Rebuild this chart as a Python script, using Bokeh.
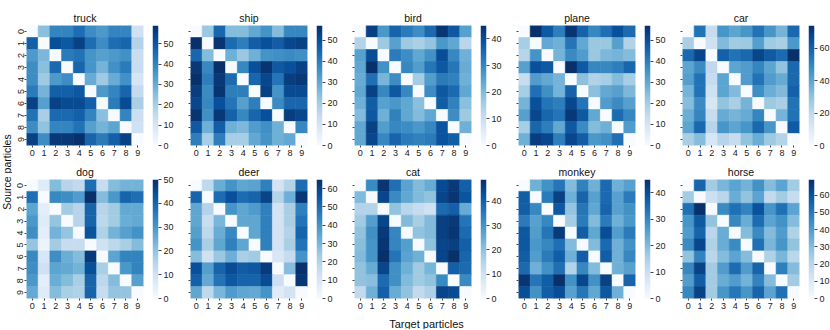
import numpy as np
from bokeh.plotting import figure
from bokeh.models import Range1d, FixedTicker, LinearColorMapper, Label, ColumnDataSource
from bokeh.layouts import row, column
from bokeh.palettes import Blues256
from bokeh.embed import file_html
from bokeh.resources import INLINE

# ---------------- data ----------------
classes = ["truck", "ship", "bird", "plane", "car", "dog", "deer", "cat", "monkey", "horse"]
tick_labels = ["0", "1", "2", "3", "4", "5", "6", "7", "8", "9"]

truck = [
    [0, 25, 40, 40, 45, 38, 35, 40, 40, 12],
    [48, 0, 52, 50, 55, 45, 38, 45, 47, 18],
    [35, 27, 0, 42, 44, 36, 33, 35, 37, 14],
    [38, 25, 46, 0, 47, 36, 28, 37, 42, 14],
    [38, 22, 35, 38, 0, 30, 22, 30, 37, 10],
    [42, 28, 48, 48, 50, 0, 35, 40, 47, 15],
    [55, 33, 55, 53, 53, 48, 0, 42, 53, 20],
    [44, 20, 46, 46, 48, 40, 25, 0, 40, 13],
    [38, 24, 40, 40, 44, 33, 28, 32, 0, 12],
    [55, 38, 57, 57, 59, 47, 42, 48, 55, 0],
]
ship = [
    [0, 22, 45, 25, 25, 30, 35, 25, 38, 38],
    [57, 0, 56, 44, 40, 47, 50, 47, 52, 53],
    [45, 25, 0, 28, 22, 28, 35, 36, 37, 36],
    [55, 38, 57, 0, 38, 50, 56, 48, 50, 53],
    [57, 40, 55, 44, 0, 45, 52, 42, 54, 55],
    [54, 37, 56, 40, 40, 0, 53, 35, 51, 51],
    [52, 38, 50, 42, 32, 40, 0, 37, 45, 45],
    [56, 36, 55, 46, 38, 45, 50, 0, 54, 52],
    [48, 28, 47, 28, 26, 33, 36, 28, 0, 38],
    [40, 20, 40, 20, 20, 30, 35, 28, 30, 0],
]
bird = [
    [0, 42, 27, 36, 32, 29, 35, 44, 38, 25],
    [14, 0, 17, 25, 17, 15, 18, 27, 24, 13],
    [25, 40, 0, 32, 29, 24, 28, 40, 30, 22],
    [24, 45, 28, 0, 30, 26, 33, 38, 33, 23],
    [23, 34, 21, 29, 0, 16, 26, 32, 31, 22],
    [24, 42, 30, 38, 30, 0, 29, 38, 35, 24],
    [22, 37, 25, 27, 24, 19, 0, 37, 31, 19],
    [20, 38, 22, 31, 24, 20, 24, 0, 29, 17],
    [24, 42, 26, 30, 29, 27, 30, 39, 0, 22],
    [24, 41, 30, 36, 32, 31, 32, 39, 37, 0],
]
plane = [
    [0, 57, 48, 40, 56, 46, 38, 43, 50, 44],
    [20, 0, 30, 28, 42, 30, 22, 22, 32, 18],
    [17, 35, 0, 27, 37, 33, 22, 26, 27, 25],
    [32, 50, 48, 0, 57, 48, 38, 38, 40, 45],
    [14, 33, 30, 27, 0, 24, 18, 20, 25, 20],
    [20, 43, 36, 27, 46, 0, 24, 30, 32, 26],
    [27, 50, 42, 40, 52, 42, 0, 33, 37, 32],
    [32, 52, 45, 42, 55, 48, 30, 0, 44, 38],
    [20, 45, 40, 30, 48, 37, 25, 28, 0, 33],
    [28, 54, 52, 40, 52, 47, 34, 36, 43, 0],
]
car = [
    [0, 55, 18, 45, 40, 45, 55, 45, 35, 58],
    [25, 0, 15, 33, 27, 28, 42, 27, 25, 44],
    [58, 68, 0, 60, 55, 58, 68, 62, 57, 74],
    [40, 48, 20, 0, 40, 43, 50, 40, 30, 58],
    [42, 55, 18, 40, 0, 43, 55, 43, 38, 58],
    [35, 55, 15, 40, 33, 0, 47, 37, 33, 60],
    [32, 48, 12, 30, 25, 35, 0, 28, 25, 55],
    [37, 50, 18, 38, 35, 38, 50, 0, 35, 55],
    [40, 58, 22, 45, 40, 45, 58, 45, 0, 62],
    [25, 32, 12, 22, 18, 30, 37, 28, 23, 0],
]
dog = [
    [0, 6, 22, 15, 13, 38, 12, 22, 24, 24],
    [38, 0, 33, 32, 29, 50, 22, 30, 40, 38],
    [27, 5, 0, 18, 15, 40, 15, 18, 26, 26],
    [30, 6, 20, 0, 15, 40, 14, 18, 25, 26],
    [32, 5, 24, 20, 0, 43, 16, 24, 28, 31],
    [20, 3, 18, 12, 12, 0, 10, 14, 17, 22],
    [33, 8, 32, 25, 22, 48, 0, 27, 34, 34],
    [32, 10, 27, 26, 24, 44, 17, 0, 30, 34],
    [30, 5, 25, 22, 17, 40, 14, 22, 0, 28],
    [26, 6, 22, 17, 16, 40, 12, 20, 20, 0],
]
deer = [
    [0, 18, 33, 40, 35, 36, 45, 12, 20, 50],
    [52, 0, 50, 57, 50, 52, 60, 20, 32, 63],
    [35, 20, 0, 40, 35, 38, 45, 12, 22, 45],
    [35, 15, 30, 0, 35, 35, 45, 12, 22, 48],
    [37, 18, 33, 43, 0, 35, 45, 12, 20, 52],
    [40, 22, 35, 45, 35, 0, 45, 12, 22, 48],
    [28, 13, 25, 32, 22, 24, 0, 10, 16, 40],
    [57, 37, 52, 58, 54, 55, 62, 0, 28, 65],
    [53, 34, 48, 55, 52, 52, 58, 14, 0, 63],
    [35, 18, 30, 38, 35, 34, 40, 8, 12, 0],
]
cat = [
    [0, 32, 48, 37, 27, 22, 25, 44, 47, 40],
    [22, 0, 45, 32, 26, 22, 20, 45, 48, 42],
    [15, 15, 0, 20, 14, 12, 10, 38, 40, 25],
    [18, 28, 45, 0, 22, 17, 22, 46, 47, 36],
    [20, 31, 47, 33, 0, 20, 22, 46, 48, 38],
    [21, 30, 48, 33, 28, 0, 20, 45, 46, 40],
    [22, 30, 49, 36, 27, 24, 0, 45, 49, 39],
    [20, 25, 45, 31, 24, 18, 23, 0, 40, 38],
    [20, 21, 38, 31, 22, 18, 20, 32, 0, 32],
    [13, 24, 40, 25, 20, 13, 16, 45, 44, 0],
]
monkey = [
    [0, 22, 28, 33, 20, 31, 22, 35, 22, 25],
    [37, 0, 32, 42, 22, 36, 25, 35, 25, 32],
    [37, 30, 0, 38, 18, 33, 24, 36, 25, 28],
    [32, 25, 30, 0, 16, 32, 20, 32, 22, 27],
    [38, 26, 33, 43, 0, 37, 24, 40, 26, 32],
    [38, 27, 30, 34, 20, 0, 20, 35, 22, 28],
    [37, 26, 32, 37, 22, 37, 0, 37, 22, 30],
    [35, 22, 28, 34, 14, 30, 20, 0, 22, 25],
    [44, 33, 37, 45, 28, 41, 28, 42, 0, 36],
    [40, 28, 37, 40, 25, 33, 24, 38, 22, 0],
]
horse = [
    [0, 55, 25, 32, 38, 33, 43, 30, 38, 25],
    [25, 0, 15, 20, 35, 28, 38, 18, 25, 17],
    [52, 69, 0, 45, 52, 47, 60, 42, 52, 38],
    [42, 58, 28, 0, 46, 35, 53, 38, 43, 30],
    [40, 55, 20, 35, 0, 30, 45, 30, 40, 22],
    [45, 63, 22, 35, 45, 0, 52, 32, 42, 28],
    [28, 47, 20, 30, 38, 30, 0, 22, 32, 20],
    [46, 64, 25, 40, 53, 40, 55, 0, 48, 30],
    [40, 57, 25, 35, 40, 33, 47, 30, 0, 25],
    [46, 64, 25, 42, 50, 42, 55, 38, 52, 0],
]
matrices = [truck, ship, bird, plane, car, dog, deer, cat, monkey, horse]
cbar_steps = [10, 10, 10, 10, 20, 10, 10, 10, 10, 10]

x_label = "Target particles"
y_label = "Source particles"

# ---------------- styling ----------------
PAL = list(reversed(Blues256))  # white -> dark blue
FONT = "Liberation Sans"
FRAME_W = 117
FRAME_H = [120, 119]
TOP_B = [25, 20]
BOT_B = 14
TICK_FS = "9px"
TXT = "#222222"
CB_RIGHT = [14, 15, 15, 15, 22]


def style_axis(ax):
    ax.axis_line_color = None
    ax.major_tick_in = 0
    ax.major_tick_out = 2
    ax.major_tick_line_color = "#444444"
    ax.minor_tick_line_color = None
    ax.major_label_text_font = FONT
    ax.major_label_text_font_size = TICK_FS
    ax.major_label_text_color = TXT
    ax.major_label_standoff = 2


def heat_fig(name, data, col, r):
    p = figure(frame_width=FRAME_W, frame_height=FRAME_H[r],
               x_range=Range1d(-0.5, 9.5), y_range=Range1d(9.5, -0.5),
               output_backend="svg", toolbar_location=None,
               min_border_left=14, min_border_right=4,
               min_border_top=TOP_B[r], min_border_bottom=BOT_B,
               title=name)
    p.title.align = "center"
    p.title.text_font = FONT
    p.title.text_font_size = "10.5px"
    p.title.text_font_style = "normal"
    p.title.text_color = "#111111"
    try:
        p.title.standoff = 3
    except Exception:
        pass
    p.grid.visible = False
    p.outline_line_color = None

    vmax = max(max(rw) for rw in data)
    mapper = LinearColorMapper(palette=PAL, low=0, high=vmax)
    xs, ys, vs = [], [], []
    for i in range(10):
        for j in range(10):
            xs.append(j)
            ys.append(i)
            vs.append(data[i][j])
    src = ColumnDataSource(dict(x=xs, y=ys, v=vs))
    p.rect("x", "y", 1, 1, source=src,
           fill_color={"field": "v", "transform": mapper},
           line_color={"field": "v", "transform": mapper}, line_width=0.6)

    overrides = {i: tick_labels[i] for i in range(10)}
    for ax in (p.xaxis[0], p.yaxis[0]):
        style_axis(ax)
        ax.ticker = FixedTicker(ticks=list(range(10)))
        ax.major_label_overrides = overrides
    p.yaxis[0].major_label_orientation = "vertical"
    p.yaxis[0].major_label_standoff = 1
    if col != 0:
        # tick marks only, no labels (same space as first column)
        p.yaxis[0].major_label_text_color = None
    return p, vmax


def cbar_fig(vmax, step, col, r):
    p = figure(frame_width=6, frame_height=FRAME_H[r],
               x_range=Range1d(0, 1), y_range=Range1d(0, vmax),
               output_backend="svg", toolbar_location=None,
               x_axis_type=None, y_axis_location="right",
               min_border_left=5, min_border_right=CB_RIGHT[col],
               min_border_top=TOP_B[r], min_border_bottom=BOT_B)
    p.grid.visible = False
    p.outline_line_color = None
    grad = np.linspace(0, vmax, 256).reshape(256, 1)
    p.image(image=[grad], x=0, y=0, dw=1, dh=vmax,
            color_mapper=LinearColorMapper(palette=PAL, low=0, high=vmax))
    ax = p.yaxis[0]
    style_axis(ax)
    ax.major_tick_out = 3
    ax.ticker = FixedTicker(ticks=list(range(0, int(vmax) + 1, step)))
    return p


rows = []
for r in range(2):
    figs = []
    for c in range(5):
        k = r * 5 + c
        hp, vmax = heat_fig(classes[k], matrices[k], c, r)
        cp = cbar_fig(vmax, cbar_steps[k], c, r)
        figs.extend([hp, cp])
    rows.append(row(*figs))
panels = column(*rows)

panel_h = sum(TOP_B) + sum(FRAME_H) + 2 * BOT_B
src_w = 12
src_fig = figure(width=src_w, height=panel_h, x_range=Range1d(0, src_w),
                 y_range=Range1d(0, panel_h), output_backend="svg",
                 toolbar_location=None, x_axis_type=None, y_axis_type=None,
                 min_border=0)
src_fig.grid.visible = False
src_fig.outline_line_color = None
src_fig.add_layout(Label(x=src_w / 2, y=panel_h - 171.5, text=y_label, angle=np.pi / 2,
                         text_align="center", text_baseline="middle",
                         text_font=FONT, text_font_size="10.5px", text_color="#111111"))

panel_w = [14 + FRAME_W + 4 + 5 + 6 + cb for cb in CB_RIGHT]
total_w = src_w + sum(panel_w)
tgt_h = 17
tgt_fig = figure(width=total_w, height=tgt_h, x_range=Range1d(0, total_w),
                 y_range=Range1d(0, tgt_h), output_backend="svg",
                 toolbar_location=None, x_axis_type=None, y_axis_type=None,
                 min_border=0)
tgt_fig.grid.visible = False
tgt_fig.outline_line_color = None
tgt_fig.add_layout(Label(x=426, y=tgt_h - 11.5, text=x_label,
                         text_align="center", text_baseline="middle",
                         text_font=FONT, text_font_size="11px", text_color="#111111"))

layout = column(row(src_fig, panels), tgt_fig)

open("out.html", "w").write(file_html(layout, INLINE))
